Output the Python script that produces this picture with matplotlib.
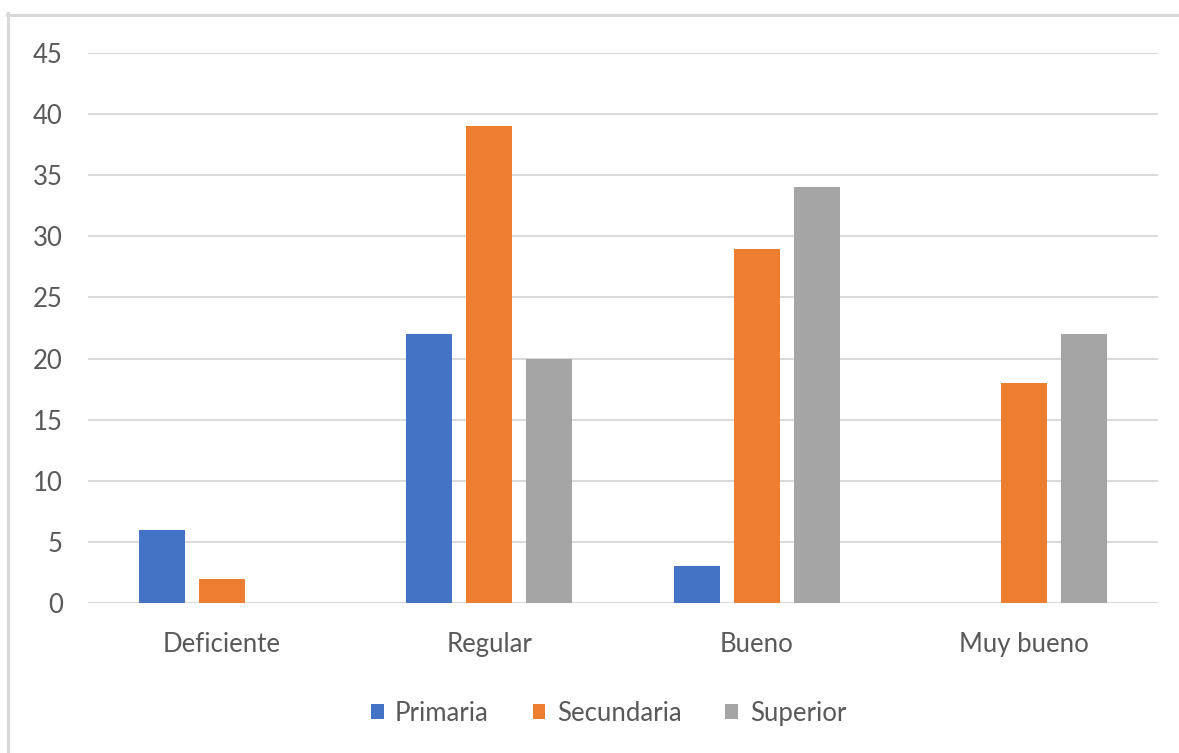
import matplotlib
matplotlib.use("Agg")
import matplotlib.pyplot as plt
import numpy as np
from matplotlib.lines import Line2D
from matplotlib.patches import Patch

categories = ["Deficiente", "Regular", "Bueno", "Muy bueno"]
primaria = [6, 22, 3, 0]
secundaria = [2, 39, 29, 18]
superior = [0, 20, 34, 22]

series = [
    ("Primaria", primaria, "#4472C4"),
    ("Secundaria", secundaria, "#ED7D31"),
    ("Superior", superior, "#A5A5A5"),
]

TEXT = "#595959"
GRID = "#D9D9D9"
FS = 18.5

plt.rcParams["font.family"] = ["Lato", "DejaVu Sans"]

fig = plt.figure(figsize=(11.79, 7.53), dpi=100)
ax = fig.add_axes([0.0746, 0.1992, 0.9076, 0.7304])

x = np.arange(len(categories))
width = 0.172
step = 0.224
for i, (name, vals, color) in enumerate(series):
    ax.bar(x + (i - 1) * step, vals, width=width, color=color, zorder=3)

ax.set_xlim(-0.5, len(categories) - 0.5)
ax.set_ylim(0, 45)
ax.set_yticks(range(0, 46, 5))
ax.yaxis.grid(True, color=GRID, linewidth=1.4, zorder=0)
ax.set_axisbelow(True)
for s in ax.spines.values():
    s.set_visible(False)
ax.set_xticks(x)
ax.set_xticklabels(categories)
ax.tick_params(axis="both", length=0, labelsize=FS, labelcolor=TEXT)
ax.tick_params(axis="x", pad=21)
ax.tick_params(axis="y", pad=18)

handles = [Patch(facecolor=c, label=n) for n, _, c in series]
fig.legend(handles=handles, loc="center", bbox_to_anchor=(0.516, 0.053),
           ncol=3, frameon=False, fontsize=FS, labelcolor=TEXT,
           handlelength=0.5, handleheight=0.5, handletextpad=0.45,
           columnspacing=1.7)

# light frame along the top and left edges
fig.add_artist(Line2D([7 / 1179, 1], [1 - 14.5 / 753, 1 - 14.5 / 753],
                      transform=fig.transFigure, color=GRID, linewidth=2.2))
fig.add_artist(Line2D([8 / 1179, 8 / 1179], [0, 1 - 13 / 753],
                      transform=fig.transFigure, color=GRID, linewidth=2.2))

fig.savefig("out.png", dpi=100, facecolor="white")
